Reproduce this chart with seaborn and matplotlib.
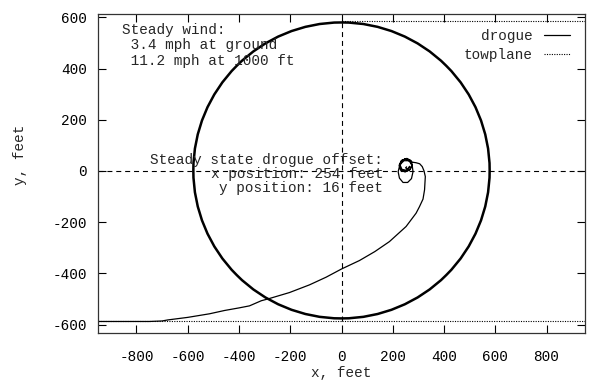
import matplotlib
matplotlib.use("Agg")
import matplotlib.pyplot as plt
from matplotlib.patches import Circle
import seaborn as sns
import pandas as pd

# ---- data ----
drogue_x = [-950, -750, -700, -678, -600, -515, -456, -400, -359, -313, -287, -203,
            -125, -60, 0, 70, 130, 187, 252, 291, 304, 318, 324, 327, 322, 315, 305,
            291, 278, 262, 244, 228, 221, 226, 240, 258, 273, 279, 276, 265, 250, 233,
            225, 230, 248, 266, 276, 272, 255, 236, 226, 232, 250, 268, 275, 268, 252,
            236, 229, 236, 252, 264, 266, 258, 250, 254]
drogue_y = [-588, -588, -586, -582, -572, -558, -545, -535, -527, -507, -500, -475,
            -445, -415, -383, -350, -315, -276, -217, -165, -140, -110, -74, -22, 0, 17,
            28, 32, 34, 40, 40, 25, -3, -28, -45, -45, -30, -3, 20, 38, 47, 40, 22, 4,
            -4, 4, 22, 40, 49, 42, 23, 4, -2, 6, 23, 41, 48, 40, 22, 6, 3, 12, 18, 8,
            12, 16]

tow_in_x = [-950, 0]
tow_in_y = [-588, -588]
tow_out_top_x = [0, 950]
tow_out_top_y = [587, 587]
tow_out_bot_x = [0, 950]
tow_out_bot_y = [-588, -588]
tow_circle_center = (0, 2)
tow_circle_radius = 578

axis_h_x = [-950, 950]
axis_h_y = [0, 0]
axis_v_x = [0, 0]
axis_v_y = [-587, 587]

xticks = [-800, -600, -400, -200, 0, 200, 400, 600, 800]
yticks = [-600, -400, -200, 0, 200, 400, 600]

wind_text = "Steady wind:\n 3.4 mph at ground\n 11.2 mph at 1000 ft"
offset_text = "Steady state drogue offset:\nx position: 254 feet\ny position: 16 feet"

# ---- figure ----
sns.set_style("ticks")
plt.rcParams['font.family'] = ['Liberation Mono', 'DejaVu Sans Mono']
FS = 10.4

fig = plt.figure(figsize=(5.9, 3.81), dpi=100)
ax = fig.add_axes([98/590, 1-333/381, 487/590, 319/381])

df = pd.DataFrame({"x": drogue_x, "y": drogue_y})
sns.lineplot(data=df, x="x", y="y", sort=False, estimator=None, ax=ax,
             color="black", lw=0.9, label="drogue")

dot = (0, (1, 1.2))
sns.lineplot(x=tow_in_x, y=tow_in_y, ax=ax, color="black", lw=0.8,
             linestyle=dot, label="towplane", sort=False, estimator=None)
sns.lineplot(x=tow_out_top_x, y=tow_out_top_y, ax=ax, color="black", lw=0.8,
             linestyle=dot, sort=False, estimator=None, legend=False)
sns.lineplot(x=tow_out_bot_x, y=tow_out_bot_y, ax=ax, color="black", lw=0.8,
             linestyle=dot, sort=False, estimator=None, legend=False)
ax.add_patch(Circle(tow_circle_center, tow_circle_radius, fill=False,
                    edgecolor="black", lw=1.8))

dash = (0, (4.5, 3.5))
ax.plot(axis_h_x, axis_h_y, color="black", lw=0.8, linestyle=dash)
ax.plot(axis_v_x, axis_v_y, color="black", lw=0.8, linestyle=dash)

ax.set_xlim(-950, 950)
ax.set_ylim(-633, 613)
ax.set_xticks(xticks)
ax.set_yticks(yticks)
ax.set_xticklabels([str(v) for v in xticks])
ax.set_yticklabels([str(v) for v in yticks])
ax.tick_params(axis="both", direction="in", length=6, width=0.8,
               top=True, right=True, labelsize=FS, colors="black")
ax.tick_params(axis="x", pad=12)
ax.tick_params(axis="y", pad=8)
for s in ax.spines.values():
    s.set_visible(True)
    s.set_linewidth(0.9)
    s.set_color("#333333")

ax.set_xlabel("x, feet", fontsize=FS)
ax.set_ylabel("y, feet", fontsize=FS)
ax.xaxis.set_label_coords(0.5, -0.105)
ax.yaxis.set_label_coords(-0.145, 0.56)

ax.text(-858, 578, wind_text, ha="left", va="top", fontsize=FS, linespacing=1.12)
ax.text(163, 71, offset_text, ha="right", va="top", fontsize=FS,
        multialignment="right", linespacing=1.03)

leg = ax.legend(loc="upper right", bbox_to_anchor=(0.970, 0.952), frameon=False,
                markerfirst=False, fontsize=FS, handlelength=1.8,
                handletextpad=0.8, labelspacing=0.3, borderpad=0, borderaxespad=0)

fig.savefig("out.png", dpi=100)
